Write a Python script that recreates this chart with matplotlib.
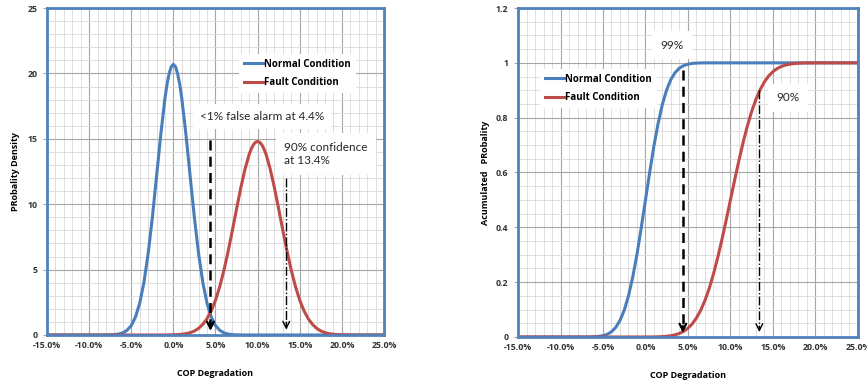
import numpy as np
import matplotlib
matplotlib.use("Agg")
import matplotlib.pyplot as plt
from matplotlib.ticker import MultipleLocator, FuncFormatter

plt.rcParams['font.family'] = ['Open Sans', 'DejaVu Sans']
plt.rcParams['font.weight'] = 'bold'

# probability density, COP degradation (%) -> value
normal_pdf_pts = {
    -15.0: 0.0, -8.5: 0.0, -8.0: 0.004, -7.5: 0.011, -7.0: 0.029, -6.5: 0.071,
    -6.0: 0.165, -5.5: 0.36, -5.0: 0.72, -4.5: 1.37, -4.0: 2.42, -3.5: 4.00,
    -3.0: 6.19, -2.5: 8.95, -2.0: 12.1, -1.5: 15.3, -1.0: 18.1, -0.75: 19.19,
    -0.5: 20.0, -0.25: 20.53, 0.0: 20.7, 0.25: 20.53, 0.5: 20.0, 0.75: 19.19,
    1.0: 18.1, 1.5: 15.3, 2.0: 12.1, 2.5: 8.95, 3.0: 6.19, 3.5: 4.00,
    4.0: 2.42, 4.5: 1.37, 5.0: 0.72, 5.5: 0.36, 6.0: 0.165, 6.5: 0.071,
    7.0: 0.029, 7.5: 0.011, 8.0: 0.004, 8.5: 0.0, 25.0: 0.0,
}
fault_pdf_pts = {
    -15.0: 0.0, -1.5: 0.0, -1.0: 0.004, -0.5: 0.008, 0.0: 0.016, 0.5: 0.030,
    1.0: 0.057, 1.5: 0.10, 2.0: 0.18, 2.5: 0.31, 3.0: 0.51, 3.5: 0.82,
    4.0: 1.25, 4.5: 1.86, 5.0: 2.66, 5.5: 3.69, 6.0: 4.94, 6.5: 6.39,
    7.0: 7.98, 7.5: 9.64, 8.0: 11.25, 8.5: 12.68, 9.0: 13.82, 9.25: 14.24,
    9.5: 14.55, 9.75: 14.74, 10.0: 14.8, 10.25: 14.74, 10.5: 14.55, 10.75: 14.24,
    11.0: 13.82, 11.5: 12.68, 12.0: 11.25, 12.5: 9.64, 13.0: 7.98, 13.5: 6.39,
    14.0: 4.94, 14.5: 3.69, 15.0: 2.66, 15.5: 1.86, 16.0: 1.25, 16.5: 0.82,
    17.0: 0.51, 17.5: 0.31, 18.0: 0.18, 18.5: 0.10, 19.0: 0.057, 19.5: 0.030,
    20.0: 0.016, 20.5: 0.008, 21.0: 0.004, 21.5: 0.0, 25.0: 0.0,
}
# accumulated probability
normal_cdf_pts = {
    -15.0: 0.0, -7.0: 0.0, -6.5: 0.0004, -6.0: 0.0009, -5.5: 0.0022,
    -5.0: 0.0048, -4.5: 0.0099, -4.0: 0.0192, -3.5: 0.0351, -3.0: 0.0601,
    -2.5: 0.0977, -2.0: 0.150, -1.5: 0.2186, -1.0: 0.302, -0.5: 0.398,
    0.0: 0.5, 0.5: 0.602, 1.0: 0.698, 1.5: 0.781, 2.0: 0.850, 2.5: 0.902,
    3.0: 0.940, 3.5: 0.965, 4.0: 0.981, 4.5: 0.990, 5.0: 0.995, 5.5: 0.998,
    6.0: 0.999, 6.5: 0.9996, 7.0: 1.0, 25.0: 1.0,
}
fault_cdf_pts = {
    -15.0: 0.0, -0.5: 0.0, 0.0: 0.0001, 0.5: 0.0002, 1.0: 0.0004, 1.5: 0.0008,
    2.0: 0.0015, 2.5: 0.0027, 3.0: 0.0048, 3.5: 0.0080, 4.0: 0.0131,
    4.5: 0.0208, 5.0: 0.0320, 5.5: 0.0478, 6.0: 0.0693, 6.5: 0.0975,
    7.0: 0.1333, 7.5: 0.1772, 8.0: 0.2294, 8.5: 0.2892, 9.0: 0.3557,
    9.5: 0.4266, 10.0: 0.5, 10.5: 0.5734, 11.0: 0.6443, 11.5: 0.7108,
    12.0: 0.7706, 12.5: 0.8228, 13.0: 0.8667, 13.5: 0.9025, 14.0: 0.9307,
    14.5: 0.9522, 15.0: 0.9680, 15.5: 0.9792, 16.0: 0.9869, 16.5: 0.9920,
    17.0: 0.9952, 17.5: 0.9973, 18.0: 0.9985, 18.5: 0.9992, 19.0: 0.9996,
    19.5: 0.9998, 20.0: 1.0, 25.0: 1.0,
}

false_alarm_at = 4.4
confidence_at = 13.4

BLUE = '#4A7EBB'
RED = '#BE4B48'
FRAME = '#4F81BD'
NOTE_FONT = ['Lato', 'DejaVu Sans']

fig = plt.figure(figsize=(8.67, 3.85), dpi=100)
ax1 = fig.add_axes([0.0542, 0.1299, 0.3887, 0.849])
ax2 = fig.add_axes([0.5975, 0.1247, 0.392, 0.8545])


def plot_series(ax, pts, color, label):
    xs = list(pts.keys())
    ys = list(pts.values())
    ax.plot(xs, ys, color=color, lw=2.2, label=label)


def style_axes(ax, ymax, ymajor, yminor, yfmt):
    ax.set_xlim(-15, 25)
    ax.set_ylim(0, ymax)
    ax.xaxis.set_major_locator(MultipleLocator(5))
    ax.xaxis.set_minor_locator(MultipleLocator(1))
    ax.yaxis.set_major_locator(MultipleLocator(ymajor))
    ax.yaxis.set_minor_locator(MultipleLocator(yminor))
    ax.xaxis.set_major_formatter(FuncFormatter(lambda v, p: "%.1f%%" % v))
    ax.yaxis.set_major_formatter(FuncFormatter(yfmt))
    ax.grid(which='major', color='#A6A6A6', lw=0.8)
    ax.grid(which='minor', color='#D9D9D9', lw=0.6)
    ax.set_axisbelow(True)
    for s in ax.spines.values():
        s.set_color(FRAME)
        s.set_linewidth(2)
    ax.tick_params(which='both', length=0, labelsize=6.3, pad=4, labelcolor='#333333')
    ax.tick_params(axis='y', which='major', length=3, color='#A6A6A6')
    ax.set_xlabel("COP Degradation", fontsize=6.5, fontweight='bold', labelpad=14)


# LEFT: probability density
plot_series(ax1, normal_pdf_pts, BLUE, "Normal Condition")
plot_series(ax1, fault_pdf_pts, RED, "Fault Condition")
style_axes(ax1, 25, 5, 1, lambda v, p: "%d" % v)
ax1.set_ylabel("PRobality Density", fontsize=6.5, fontweight='bold', labelpad=5)

ax1.plot([false_alarm_at, false_alarm_at], [14.9, 0.5], color='black', lw=1.8, ls=(0, (4, 2.5)))
ax1.annotate('', xy=(false_alarm_at, 0.1), xytext=(false_alarm_at, 1.2),
             arrowprops=dict(arrowstyle='->', color='black', lw=1.6, mutation_scale=12))
ax1.plot([confidence_at, confidence_at], [12.0, 0.5], color='black', lw=1.0, ls='-.')
ax1.annotate('', xy=(confidence_at, 0.2), xytext=(confidence_at, 1.2),
             arrowprops=dict(arrowstyle='->', color='black', lw=1.0, mutation_scale=12))

ax1.text(3.16, 16.74, "<1% false alarm at 4.4%", fontsize=8.5, ha='left', va='center',
         color='#262626', fontweight='normal', family=NOTE_FONT,
         bbox=dict(facecolor='white', edgecolor='none', pad=5))
ax1.text(13.13, 13.84, "90% confidence\nat 13.4%", fontsize=8.5, ha='left', va='center',
         color='#262626', linespacing=1.3, fontweight='normal', family=NOTE_FONT,
         bbox=dict(facecolor='white', edgecolor='none', pad=6))

leg1 = ax1.legend(loc='upper left', bbox_to_anchor=(0.555, 0.875),
                  frameon=True, fancybox=False, handlelength=2.0, handletextpad=0.1,
                  labelspacing=0.8, borderpad=0.5,
                  prop={'weight': 'bold', 'size': 7, 'family': 'Open Sans'})
leg1.get_frame().set_edgecolor('none')
leg1.get_frame().set_alpha(1)

# RIGHT: accumulated probability
plot_series(ax2, normal_cdf_pts, BLUE, "Normal Condition")
plot_series(ax2, fault_cdf_pts, RED, "Fault Condition")
style_axes(ax2, 1.2, 0.2, 0.05, lambda v, p: "%g" % round(v, 1))
ax2.set_ylabel("Acumulated   PRobality", fontsize=6.5, fontweight='bold', labelpad=4)

ax2.plot([false_alarm_at, false_alarm_at], [0.974, 0.03], color='black', lw=1.8, ls=(0, (4, 2.5)))
ax2.annotate('', xy=(false_alarm_at, 0.005), xytext=(false_alarm_at, 0.05),
             arrowprops=dict(arrowstyle='->', color='black', lw=1.6, mutation_scale=12))
ax2.plot([confidence_at, confidence_at], [0.90, 0.03], color='black', lw=1.0, ls='-.')
ax2.annotate('', xy=(confidence_at, 0.008), xytext=(confidence_at, 0.05),
             arrowprops=dict(arrowstyle='->', color='black', lw=1.0, mutation_scale=12))

ax2.text(3.12, 1.065, "99%", fontsize=8.5, ha='center', va='center', color='#262626',
         fontweight='normal', family=NOTE_FONT,
         bbox=dict(facecolor='white', edgecolor='none', pad=6))
ax2.text(16.76, 0.872, "90%", fontsize=8.5, ha='center', va='center', color='#262626',
         fontweight='normal', family=NOTE_FONT,
         bbox=dict(facecolor='white', edgecolor='none', pad=6))

leg2 = ax2.legend(loc='upper left', bbox_to_anchor=(0.05, 0.83),
                  frameon=True, fancybox=False, handlelength=2.0, handletextpad=0.1,
                  labelspacing=0.8, borderpad=0.5,
                  prop={'weight': 'bold', 'size': 7, 'family': 'Open Sans'})
leg2.get_frame().set_edgecolor('none')
leg2.get_frame().set_alpha(1)

fig.savefig("out.png", dpi=100)
